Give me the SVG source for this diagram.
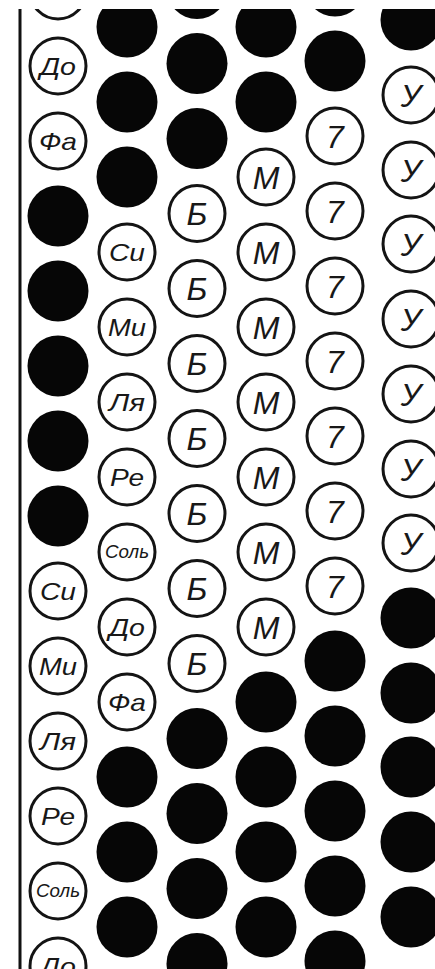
<svg xmlns="http://www.w3.org/2000/svg" width="435" height="969" viewBox="0 0 435 969">
<style>
.b{fill:#060606}
.o{fill:#fff;stroke:#141414;stroke-width:3}
.t{font-family:"Liberation Sans","DejaVu Sans",sans-serif;font-style:italic;fill:#181818;text-anchor:middle}
.s{font-size:32px}
.d{font-size:24px}
.w{font-size:18px}
</style>
<defs>
<clipPath id="area"><rect x="0" y="9" width="435" height="960"/></clipPath>
</defs>
<rect width="435" height="969" fill="#fff"/>
<g clip-path="url(#area)">
<line x1="20" y1="9" x2="20" y2="969" stroke="#111" stroke-width="3"/>
<!-- column 1 -->
<g id="col1">
<circle class="o" cx="58" cy="-9" r="28"/>
<circle class="o" cx="58" cy="66" r="28"/><text class="t d" x="58" y="75" textLength="36" lengthAdjust="spacingAndGlyphs">До</text>
<circle class="o" cx="58" cy="141" r="28"/><text class="t d" x="58" y="150" textLength="38" lengthAdjust="spacingAndGlyphs">Фа</text>
<circle class="b" cx="58" cy="216" r="30.5"/>
<circle class="b" cx="58" cy="291" r="30.5"/>
<circle class="b" cx="58" cy="366" r="30.5"/>
<circle class="b" cx="58" cy="441" r="30.5"/>
<circle class="b" cx="58" cy="516" r="30.5"/>
<circle class="o" cx="58" cy="591" r="28"/><text class="t d" x="58" y="600" textLength="36" lengthAdjust="spacingAndGlyphs">Си</text>
<circle class="o" cx="58" cy="666" r="28"/><text class="t d" x="58" y="675" textLength="38" lengthAdjust="spacingAndGlyphs">Ми</text>
<circle class="o" cx="58" cy="741" r="28"/><text class="t d" x="58" y="750" textLength="36" lengthAdjust="spacingAndGlyphs">Ля</text>
<circle class="o" cx="58" cy="816" r="28"/><text class="t d" x="58" y="825" textLength="34" lengthAdjust="spacingAndGlyphs">Ре</text>
<circle class="o" cx="58" cy="891" r="28"/><text class="t w" x="58" y="897" textLength="44" lengthAdjust="spacingAndGlyphs">Соль</text>
<circle class="o" cx="58" cy="966" r="28"/><text class="t d" x="58" y="975" textLength="36" lengthAdjust="spacingAndGlyphs">До</text>
</g>
<!-- column 2 -->
<g id="col2">
<circle class="b" cx="127" cy="27" r="30.5"/>
<circle class="b" cx="127" cy="102" r="30.5"/>
<circle class="b" cx="127" cy="177" r="30.5"/>
<circle class="o" cx="127" cy="252" r="28"/><text class="t d" x="127" y="261" textLength="36" lengthAdjust="spacingAndGlyphs">Си</text>
<circle class="o" cx="127" cy="327" r="28"/><text class="t d" x="127" y="336" textLength="38" lengthAdjust="spacingAndGlyphs">Ми</text>
<circle class="o" cx="127" cy="402" r="28"/><text class="t d" x="127" y="411" textLength="36" lengthAdjust="spacingAndGlyphs">Ля</text>
<circle class="o" cx="127" cy="477" r="28"/><text class="t d" x="127" y="486" textLength="34" lengthAdjust="spacingAndGlyphs">Ре</text>
<circle class="o" cx="127" cy="552" r="28"/><text class="t w" x="127" y="558" textLength="44" lengthAdjust="spacingAndGlyphs">Соль</text>
<circle class="o" cx="127" cy="627" r="28"/><text class="t d" x="127" y="636" textLength="36" lengthAdjust="spacingAndGlyphs">До</text>
<circle class="o" cx="127" cy="702" r="28"/><text class="t d" x="127" y="711" textLength="38" lengthAdjust="spacingAndGlyphs">Фа</text>
<circle class="b" cx="127" cy="777" r="30.5"/>
<circle class="b" cx="127" cy="852" r="30.5"/>
<circle class="b" cx="127" cy="927" r="30.5"/>
</g>
<!-- column 3 -->
<g id="col3">
<circle class="b" cx="197" cy="-11.5" r="30.5"/>
<circle class="b" cx="197" cy="63.5" r="30.5"/>
<circle class="b" cx="197" cy="138.5" r="30.5"/>
<circle class="o" cx="197" cy="213.5" r="28"/><text class="t s" x="197" y="225">Б</text>
<circle class="o" cx="197" cy="288.5" r="28"/><text class="t s" x="197" y="300">Б</text>
<circle class="o" cx="197" cy="363.5" r="28"/><text class="t s" x="197" y="375">Б</text>
<circle class="o" cx="197" cy="438.5" r="28"/><text class="t s" x="197" y="450">Б</text>
<circle class="o" cx="197" cy="513.5" r="28"/><text class="t s" x="197" y="525">Б</text>
<circle class="o" cx="197" cy="588.5" r="28"/><text class="t s" x="197" y="600">Б</text>
<circle class="o" cx="197" cy="663.5" r="28"/><text class="t s" x="197" y="675">Б</text>
<circle class="b" cx="197" cy="738.5" r="30.5"/>
<circle class="b" cx="197" cy="813.5" r="30.5"/>
<circle class="b" cx="197" cy="888.5" r="30.5"/>
<circle class="b" cx="197" cy="963.5" r="30.5"/>
</g>
<!-- column 4 -->
<g id="col4">
<circle class="b" cx="266" cy="27" r="30.5"/>
<circle class="b" cx="266" cy="102" r="30.5"/>
<circle class="o" cx="266" cy="177" r="28"/><text class="t s" x="266" y="188.5">М</text>
<circle class="o" cx="266" cy="252" r="28"/><text class="t s" x="266" y="263.5">М</text>
<circle class="o" cx="266" cy="327" r="28"/><text class="t s" x="266" y="338.5">М</text>
<circle class="o" cx="266" cy="402" r="28"/><text class="t s" x="266" y="413.5">М</text>
<circle class="o" cx="266" cy="477" r="28"/><text class="t s" x="266" y="488.5">М</text>
<circle class="o" cx="266" cy="552" r="28"/><text class="t s" x="266" y="563.5">М</text>
<circle class="o" cx="266" cy="627" r="28"/><text class="t s" x="266" y="638.5">М</text>
<circle class="b" cx="266" cy="702" r="30.5"/>
<circle class="b" cx="266" cy="777" r="30.5"/>
<circle class="b" cx="266" cy="852" r="30.5"/>
<circle class="b" cx="266" cy="927" r="30.5"/>
</g>
<!-- column 5 -->
<g id="col5">
<circle class="b" cx="335" cy="-14" r="30.5"/>
<circle class="b" cx="335" cy="61" r="30.5"/>
<circle class="o" cx="335" cy="136" r="28"/><text class="t s" x="335" y="147.5">7</text>
<circle class="o" cx="335" cy="211" r="28"/><text class="t s" x="335" y="222.5">7</text>
<circle class="o" cx="335" cy="286" r="28"/><text class="t s" x="335" y="297.5">7</text>
<circle class="o" cx="335" cy="361" r="28"/><text class="t s" x="335" y="372.5">7</text>
<circle class="o" cx="335" cy="436" r="28"/><text class="t s" x="335" y="447.5">7</text>
<circle class="o" cx="335" cy="511" r="28"/><text class="t s" x="335" y="522.5">7</text>
<circle class="o" cx="335" cy="586" r="28"/><text class="t s" x="335" y="597.5">7</text>
<circle class="b" cx="335" cy="661" r="30.5"/>
<circle class="b" cx="335" cy="736" r="30.5"/>
<circle class="b" cx="335" cy="811" r="30.5"/>
<circle class="b" cx="335" cy="886" r="30.5"/>
<circle class="b" cx="335" cy="961" r="30.5"/>
</g>
<!-- column 6 -->
<g id="col6">
<circle class="b" cx="411" cy="20" r="30.5"/>
<circle class="o" cx="411" cy="95" r="28"/><text class="t s" x="411" y="106.5">У</text>
<circle class="o" cx="411" cy="170" r="28"/><text class="t s" x="411" y="181.5">У</text>
<circle class="o" cx="411" cy="244" r="28"/><text class="t s" x="411" y="255.5">У</text>
<circle class="o" cx="411" cy="319" r="28"/><text class="t s" x="411" y="330.5">У</text>
<circle class="o" cx="411" cy="394" r="28"/><text class="t s" x="411" y="405.5">У</text>
<circle class="o" cx="411" cy="469" r="28"/><text class="t s" x="411" y="480.5">У</text>
<circle class="o" cx="411" cy="543" r="28"/><text class="t s" x="411" y="554.5">У</text>
<circle class="b" cx="411" cy="618" r="30.5"/>
<circle class="b" cx="411" cy="693" r="30.5"/>
<circle class="b" cx="411" cy="767" r="30.5"/>
<circle class="b" cx="411" cy="842" r="30.5"/>
<circle class="b" cx="411" cy="917" r="30.5"/>
</g>
</g>
</svg>
